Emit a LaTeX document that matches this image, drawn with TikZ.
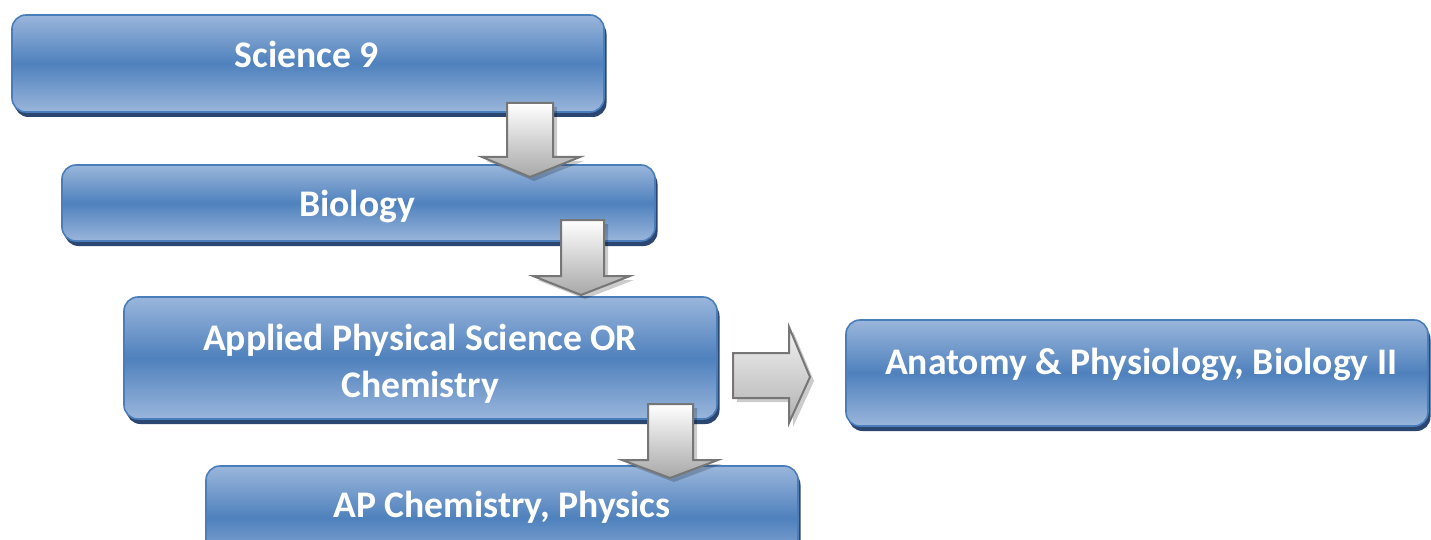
\documentclass[tikz,border=0pt]{standalone}
\usepackage{fontspec}
\setmainfont{Carlito}
\usetikzlibrary{shadows}
\definecolor{boxmid}{HTML}{4F81BD}
\definecolor{boxlight}{HTML}{9AB6DB}
\definecolor{boxedge}{HTML}{4A7EBB}
\definecolor{boxshade}{HTML}{2B4670}
\definecolor{arredge}{HTML}{767676}
\definecolor{arrlow}{HTML}{A8A8A8}
\tikzset{
  box/.style={rectangle, rounded corners=14pt, draw=boxedge, line width=1.6pt,
    top color=boxlight, bottom color=boxlight, middle color=boxmid,
    inner sep=0pt,
    drop shadow={shadow xshift=2.5pt, shadow yshift=-5pt, fill=boxshade, opacity=1}},
  lbl/.style={text=white, font=\fontsize{37.6}{47}\selectfont\bfseries, align=center, inner sep=0pt},
  blockarrow/.style={draw=arredge, line width=2pt, line join=miter,
    top color=white, bottom color=arrlow,
    drop shadow={shadow xshift=4pt, shadow yshift=-4pt, fill=black, opacity=0.2}},
  rblockarrow/.style={draw=arredge, line width=2pt, line join=miter,
    top color=white!95!black, bottom color=arrlow!90!white,
    drop shadow={shadow xshift=4pt, shadow yshift=-4pt, fill=black, opacity=0.2}}
}
\begin{document}
\begin{tikzpicture}[x=1pt, y=-1pt]
\useasboundingbox (0,0) rectangle (1431,540);
\clip (0,0) rectangle (1431,540);
% boxes
\node[box, minimum width=592pt, minimum height=97pt] (b1) at (308,63.5) {};
\node[box, minimum width=593pt, minimum height=76pt] (b2) at (358.5,203) {};
\node[box, minimum width=593pt, minimum height=122pt] (b3) at (420.5,358) {};
\node[box, minimum width=592pt, minimum height=104pt] (b4) at (502,518) {};
\node[box, minimum width=582pt, minimum height=106pt] (b5) at (1137,373) {};
% labels
\node[lbl] (t1) at (307,54) {Science 9};
\node[lbl] (t2) at (357,206) {Biology};
\node[lbl] (t3) at (420,363.5) {Applied Physical Science OR\\Chemistry};
\node[lbl] (t4) at (502,507.5) {AP Chemistry, Physics};
\node[lbl] (t5) at (1141,364) {Anatomy \& Physiology, Biology II};
% block arrows
\path[blockarrow] (507,103) -- (553,103) -- (553,157) -- (580,157) -- (530,177) -- (482,157) -- (507,157) -- cycle;
\path[blockarrow] (561,220) -- (604,220) -- (604,276) -- (630,276) -- (581,295) -- (533,276) -- (561,276) -- cycle;
\path[blockarrow] (648,404) -- (693,404) -- (693,460) -- (718,460) -- (670,478) -- (622,460) -- (648,460) -- cycle;
\path[rblockarrow] (733,353) -- (789,353) -- (789,327) -- (810,377) -- (789,423) -- (789,398) -- (733,398) -- cycle;
\end{tikzpicture}
\end{document}
